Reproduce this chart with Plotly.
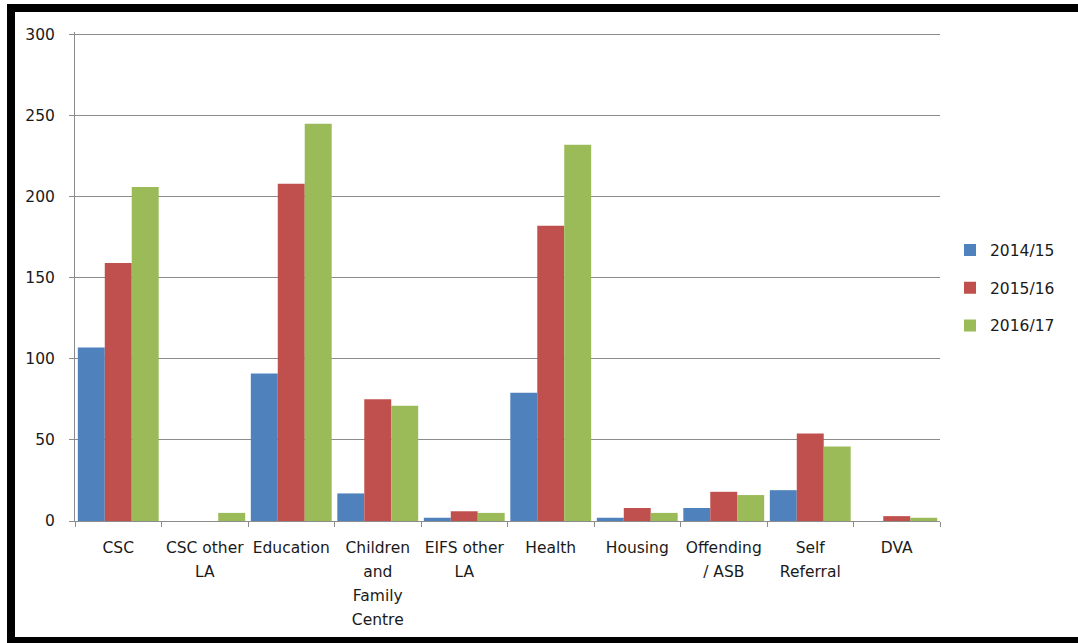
import plotly.graph_objects as go

# ---- data ----
categories = ["CSC", "CSC other\nLA", "Education", "Children\nand\nFamily\nCentre",
              "EIFS other\nLA", "Health", "Housing", "Offending\n/ ASB", "Self\nReferral", "DVA"]
series_names = ["2014/15", "2015/16", "2016/17"]
v_2014_15 = [107, 0, 91, 17, 2, 79, 2, 8, 19, 0]
v_2015_16 = [159, 0, 208, 75, 6, 182, 8, 18, 54, 3]
v_2016_17 = [206, 5, 245, 71, 5, 232, 5, 16, 46, 2]
y_ticks = [0, 50, 100, 150, 200, 250, 300]

colors = ["#4F81BD", "#C0504D", "#9BBB59"]
FONT = "DejaVu Sans"
TXT = "#1a1a1a"
GRID = "#8c8c8c"

def wrap(label):
    return "<br>".join("<span style='font-size:15.5px'>%s</span>" % p for p in label.split("\n"))

xcats = [wrap(c) for c in categories]

fig = go.Figure()
for name, vals, col in zip(series_names, [v_2014_15, v_2015_16, v_2016_17], colors):
    fig.add_trace(go.Bar(x=xcats, y=vals, name=name, legendgroup=name,
                         marker=dict(color=col, line=dict(width=0))))

W, H = 1078, 643
L, R, T, B = 75, 138, 32, 122
pw, ph = W - L - R, H - T - B
def px(x):
    return (x - L) / pw
def py(y):
    return (H - B - y) / ph

shapes = [
    dict(type="rect", xref="paper", yref="paper", x0=px(7), x1=px(W + 5), y0=py(12), y1=py(4),
         fillcolor="black", line=dict(width=0), layer="above"),
    dict(type="rect", xref="paper", yref="paper", x0=px(7), x1=px(15), y0=py(H + 5), y1=py(4),
         fillcolor="black", line=dict(width=0), layer="above"),
    dict(type="rect", xref="paper", yref="paper", x0=px(7), x1=px(W + 5), y0=py(H + 5), y1=py(637),
         fillcolor="black", line=dict(width=0), layer="above"),
]

fig.update_layout(
    width=W, height=H,
    margin=dict(l=L, r=R, t=T, b=B, pad=0),
    paper_bgcolor="white", plot_bgcolor="white",
    barmode="group", bargap=0.065, bargroupgap=0,
    font=dict(family=FONT, size=15, color=TXT),
    showlegend=True,
    legend=dict(x=px(950), xanchor="left", y=py(288), yanchor="middle",
                font=dict(family=FONT, size=15.5, color=TXT),
                traceorder="grouped", tracegroupgap=14.5, bgcolor="rgba(0,0,0,0)"),
    shapes=shapes,
)
fig.update_xaxes(type="category", tickson="boundaries", ticks="outside", ticklen=5,
                 tickcolor=GRID, showline=True, linecolor=GRID, linewidth=1,
                 showgrid=False, tickangle=0,
                 tickfont=dict(family=FONT, size=18.5, color=TXT), ticklabelstandoff=9)
fig.update_yaxes(range=[0, 301.5], tickvals=y_ticks, ticks="outside", ticklen=5,
                 tickcolor=GRID, showline=True, linecolor=GRID, linewidth=1,
                 showgrid=True, gridcolor=GRID, gridwidth=1, zeroline=False,
                 tickfont=dict(family=FONT, size=15.5, color=TXT), ticklabelstandoff=11)

fig.write_html("out.html")
